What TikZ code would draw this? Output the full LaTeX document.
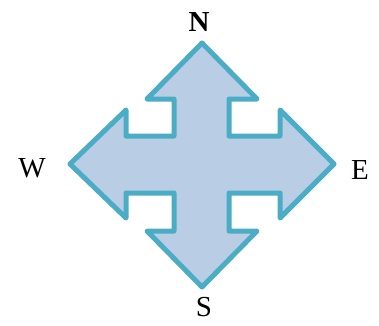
\documentclass[tikz,border=0pt]{standalone}
\usepackage{fontspec}
\setmainfont{Liberation Serif}
\usetikzlibrary{positioning}

\definecolor{arrowfill}{HTML}{B9CDE5}
\definecolor{arrowline}{HTML}{4BACC6}

\tikzset{
  compass/.style={font=\fontsize{29}{34}\selectfont, inner sep=0pt}
}

\begin{document}
\begin{tikzpicture}[x=1pt, y=-1pt]
  % Frame
  \useasboundingbox (0,0) rectangle (379,325);

  % Four-way arrow
  \draw[line width=5pt, line join=round, draw=arrowline, fill=arrowfill]
    (202,43) -- (257,99) -- (229,99) -- (229,136) -- (280,136) -- (280,110)
    -- (334,164) -- (280,218) -- (280,193) -- (229,193) -- (229,231)
    -- (257,231) -- (202,287) -- (147,231) -- (174,231) -- (174,193)
    -- (126,193) -- (126,218) -- (70,164) -- (126,110) -- (126,136)
    -- (174,136) -- (174,99) -- (147,99) -- cycle;

  % Directions
  \node[compass, font=\fontsize{29}{34}\selectfont\bfseries] (north) at (199,22) {N};
  \node[compass] (west) at (32,168) {W};
  \node[compass] (east) at (360,170) {E};
  \node[compass] (south) at (204,307) {S};
\end{tikzpicture}
\end{document}
